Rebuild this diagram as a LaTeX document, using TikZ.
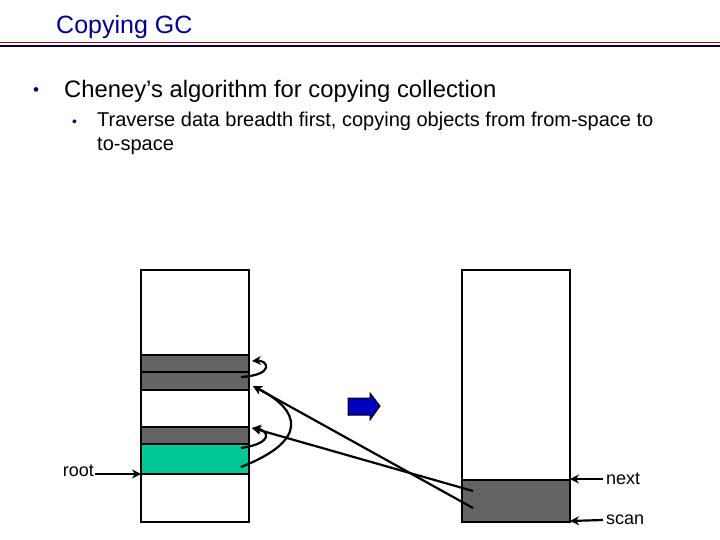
\documentclass[tikz,border=0pt]{standalone}
\usepackage{fontspec}
\setmainfont{Liberation Sans}
\usetikzlibrary{arrows.meta}
\definecolor{cgreen}{RGB}{0,200,150}
\definecolor{cgray}{RGB}{100,100,100}
\begin{document}
\begin{tikzpicture}[x=1pt,y=-1pt,
  mem/.style={draw=black,line width=2.4pt},
  band/.style={draw=black,line width=2.2pt,fill=cgray},
  ptr/.style={line width=2.2pt,-{Stealth[length=9pt,width=9pt]}},
  lab/.style={font=\fontsize{18}{20}\selectfont}]
\useasboundingbox (0,0) rectangle (720,540);
\node[anchor=west,inner sep=0,text=blue!55!black,font=\fontsize{25}{28}\selectfont] (title) at (56,27) {Copying GC};
\draw[red!75!black,line width=1.3pt] (0,42.5) -- (720,42.5);
\draw[blue!25!black,line width=1.5pt] (0,46) -- (720,46);
\node[anchor=west,inner sep=0,font=\fontsize{17}{20}\selectfont,text=blue!50!black] (d1) at (33,92) {\textbullet};
\node[anchor=west,inner sep=0,font=\fontsize{23.8}{26}\selectfont] (b1) at (64,91) {Cheney’s algorithm for copying collection};
\node[anchor=west,inner sep=0,font=\fontsize{14}{16}\selectfont,text=blue!50!black] (d2) at (72,123) {\textbullet};
\node[anchor=north west,inner sep=0,align=left,font=\fontsize{20}{24}\selectfont] (b2) at (97,112) {Traverse data breadth first, copying objects from from-space to\\to-space};
% from-space
\draw[band] (141,355) rectangle (249,372);
\draw[band] (141,372) rectangle (249,390);
\draw[band] (141,427) rectangle (249,444);
\draw[draw=black,line width=2.2pt,fill=cgreen] (141,444) rectangle (249,474);
\draw[mem] (141,270) rectangle (249,522);
% to-space
\draw[band] (462,480) rectangle (570,522);
\draw[mem] (462,270) rectangle (570,522);
% blue arrow
\draw[fill=blue!75!black,draw=black,line width=1pt] (348,398) -- (370,398) -- (370,393) -- (380,406) -- (370,420) -- (370,415) -- (348,415) -- cycle;
% labels
\node[lab,anchor=east,inner sep=1pt] (root) at (95,471) {root};
\node[lab,anchor=west,inner sep=1pt] (next) at (605,479) {next};
\node[lab,anchor=west,inner sep=1pt] (scan) at (605,520) {scan};
\coordinate (rl) at (141,474);
\coordinate (nl) at (570,479);
\coordinate (sl) at (570,521);
\draw[ptr] (root.east) ++(0,3) -- (rl);
\draw[ptr] (next.west) ++(-2,0) -- (nl);
\draw[ptr] (scan.west) ++(-2,0) -- (sl);
% pointers
\coordinate (s1) at (241,377); \coordinate (t1) at (252,361);
\coordinate (s2) at (241,448); \coordinate (t2) at (252,428);
\coordinate (s3) at (241,467); \coordinate (t3) at (253,386);
\coordinate (n1) at (473,491); \coordinate (n2) at (473,508);
\draw[ptr] (s1) .. controls (275,375) and (268,360) .. (t1);
\draw[ptr] (s2) .. controls (275,443) and (268,430) .. (t2);
\draw[ptr] (s3) .. controls (310,440) and (300,410) .. (t3);
\draw[ptr] (n1) -- (t2);
\draw[ptr] (n2) -- (t3);
\end{tikzpicture}
\end{document}
